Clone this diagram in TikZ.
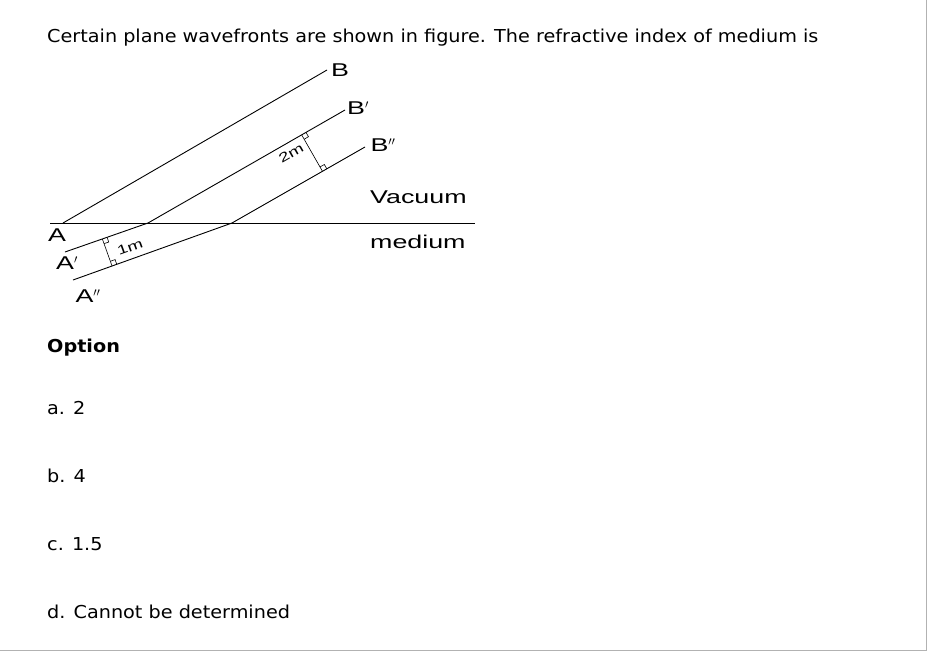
\documentclass[tikz,border=0pt]{standalone}
\usepackage{fontspec}
\setmainfont[FakeStretch=1.08]{DejaVu Sans}
\newfontfamily\figfont[FakeStretch=1.45]{Liberation Sans}
\usetikzlibrary{calc}
\tikzset{
  wave/.style={draw=black, line width=0.9pt},
  gap/.style={draw=black, line width=0.6pt},
  lab/.style={font=\figfont\fontsize{18.5}{19}\selectfont, inner sep=0pt},
  txt/.style={font=\fontsize{17.8}{20}\selectfont, anchor=west, inner sep=0pt},
}

\begin{document}
\begin{tikzpicture}[x=1pt,y=-1pt]
  \useasboundingbox (0,0) rectangle (927,651);
  \draw[gray!60, line width=1pt] (926,0) -- (926,650) -- (0,650);

  % question and options
  \node[txt] (q) at (47,38) {Certain plane wavefronts are shown in figure. The refractive index of medium is};
  \node[txt, font=\bfseries\fontsize{17.8}{20}\selectfont] (opt) at (47,348) {Option};
  \node[txt] (oa) at (47,408) {a. 2};
  \node[txt] (ob) at (47,476) {b. 4};
  \node[txt] (oc) at (47,544) {c. 1.5};
  \node[txt] (od) at (47,612) {d. Cannot be determined};

  % interface
  \coordinate (L) at (50,223);
  \coordinate (R) at (475,223);
  \draw[wave] (L) -- (R);

  % wavefronts
  \coordinate (A) at (63,223);
  \coordinate (B) at (327,70);
  \coordinate (A1) at (65,252);
  \coordinate (P1) at (148,223);
  \coordinate (B1) at (345,110);
  \coordinate (A2) at (73,280);
  \coordinate (P2) at (232,223);
  \coordinate (B2) at (365,147);
  \draw[wave] (A) -- (B);
  \draw[wave] (A1) -- (P1) -- (B1);
  \draw[wave] (A2) -- (P2) -- (B2);

  % separations
  \coordinate (m1) at ($(P1)!0.78!(B1)$);
  \coordinate (m2) at ($(P2)!(m1)!(B2)$);
  \draw[gap] (m1) -- (m2);
  \draw[gap] ($(m1)!5pt!(m2)$) -- ++($(P1)!5pt!(B1)-(P1)$) -- ($(m1)+($(P1)!5pt!(B1)-(P1)$)$);
  \draw[gap] ($(m2)!5pt!(m1)$) -- ++($(P2)!5pt!(B2)-(P2)$) -- ($(m2)+($(P2)!5pt!(B2)-(P2)$)$);
  \node[lab, rotate=30, font=\figfont\fontsize{13}{14}\selectfont] (d2) at (291,153) {2m};

  \coordinate (n1) at ($(A1)!0.45!(P1)$);
  \coordinate (n2) at ($(A2)!(n1)!(P2)$);
  \draw[gap] (n1) -- (n2);
  \draw[gap] ($(n1)!5pt!(n2)$) -- ++($(A1)!5pt!(P1)-(A1)$) -- ($(n1)+($(A1)!5pt!(P1)-(A1)$)$);
  \draw[gap] ($(n2)!5pt!(n1)$) -- ++($(A2)!5pt!(P2)-(A2)$) -- ($(n2)+($(A2)!5pt!(P2)-(A2)$)$);
  \node[lab, rotate=20, font=\figfont\fontsize{13}{14}\selectfont] (d1) at (130,247) {1m};

  % labels
  \node[lab] (lB) at (340,70) {B};
  \node[lab] (lB1) at (358,108) {B$'$};
  \node[lab] (lB2) at (383,145) {B$''$};
  \node[lab, anchor=west] (vac) at (370,197) {Vacuum};
  \node[lab, anchor=west] (med) at (370,242) {medium};
  \node[lab] (lA) at (57,235) {A};
  \node[lab] (lA1) at (67,263) {A$'$};
  \node[lab] (lA2) at (88,296) {A$''$};
\end{tikzpicture}
\end{document}
